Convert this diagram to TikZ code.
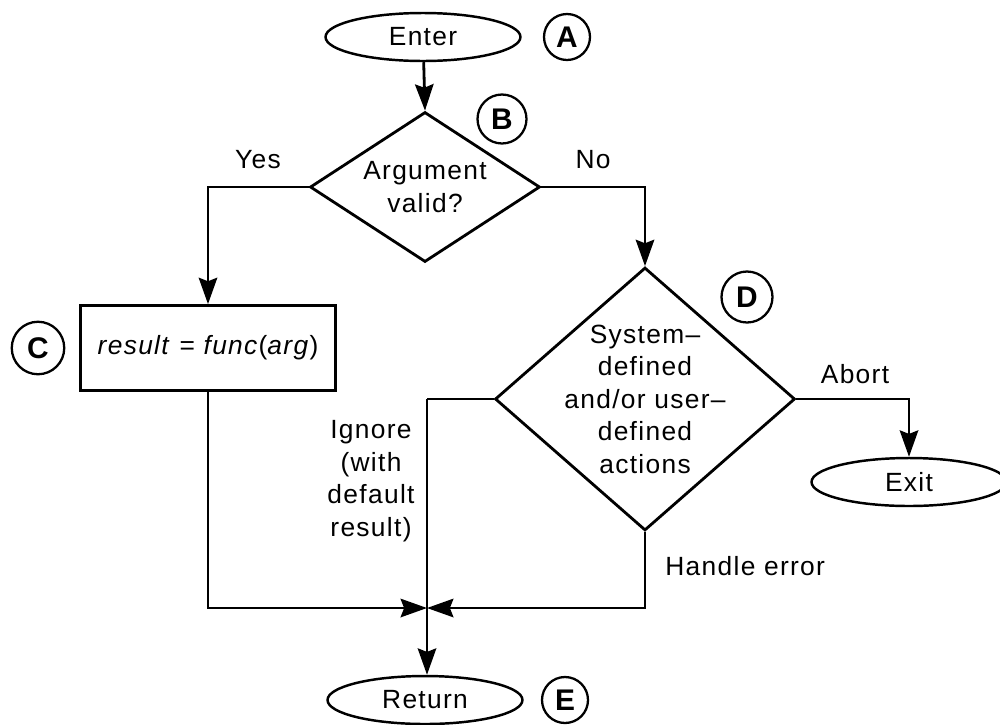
\documentclass[tikz,border=0pt]{standalone}
\usepackage{fontspec}
\setmainfont{Liberation Sans}[LetterSpace=5]
\usetikzlibrary{shapes.geometric,arrows.meta}
\begin{document}
\begin{tikzpicture}[x=0.02cm,y=-0.02cm,
  every node/.style={font=\fontsize{15}{18.5}\selectfont},
  line/.style={line width=1.6pt},
  flow/.style={line, -{Stealth[length=15pt,width=10.5pt,inset=2pt]}},
  terminal/.style={ellipse, draw, line width=1.4pt, minimum width=3.9cm, minimum height=0.96cm, inner sep=0pt},
  decision/.style={diamond, draw, line width=1.6pt, inner sep=0pt},
  process/.style={rectangle, draw, line width=1.6pt, minimum width=5.1cm, minimum height=1.7cm},
  tag/.style={circle, draw, line width=1.3pt, minimum size=0.92cm, inner sep=0pt, font=\fontsize{17}{17}\selectfont\bfseries},
  lbl/.style={inner sep=0pt, align=center}
]
\useasboundingbox (0,0) rectangle (1000,724);

% main path
\node[terminal] (enter) at (423,37) {Enter};
\node[tag] (tA) at (567,37) {A};
\node[decision, minimum width=4.6cm, minimum height=3cm] (valid) at (425,187) {};
\node[lbl] (validtext) at (valid.center) {Argument\\valid?};
\node[tag, minimum size=0.98cm] (tB) at (502,119) {B};
\node[process] (calc) at (208,348) {\textit{result} = \textit{func}(\textit{arg})};
\node[tag, minimum size=1.05cm] (tC) at (38,348) {C};
\node[decision, minimum width=6cm, minimum height=5.26cm] (sys) at (645,399) {};
\node[lbl] (systext) at (sys.center) {System--\\defined\\and/or user--\\defined\\actions};
\node[tag, minimum size=1.02cm] (tD) at (747,297) {D};
\node[terminal] (exit) at (909,482) {Exit};
\node[terminal] (ret) at (425,700) {Return};
\node[tag] (tE) at (565,700) {E};

% merge point of the two error paths
\coordinate (join) at (427,608);
\coordinate (ignore) at (427,399);

% connectors
\draw[flow] (enter) -- (valid.north);
\draw[flow] (valid.west) -| (calc.north);
\draw[flow] (valid.east) -| (sys.north);
\draw[flow] (calc.south) |- (join);
\draw[flow] (sys.south) |- (join);
\draw[line] (sys.west) -- (ignore);
\draw[flow] (ignore) -- (ignore |- ret.north);
\draw[flow] (sys.east) -| (exit.north);

% branch labels
\node[lbl] (yes) at (258,160) {Yes};
\node[lbl] (no) at (593,160) {No};
\node[lbl] (abort) at (855,374) {Abort};
\node[lbl, anchor=west] (handle) at (665,566) {Handle error};
\node[lbl] (ign) at (371,481) {Ignore\\(with\\default\\result)};
\end{tikzpicture}
\end{document}
